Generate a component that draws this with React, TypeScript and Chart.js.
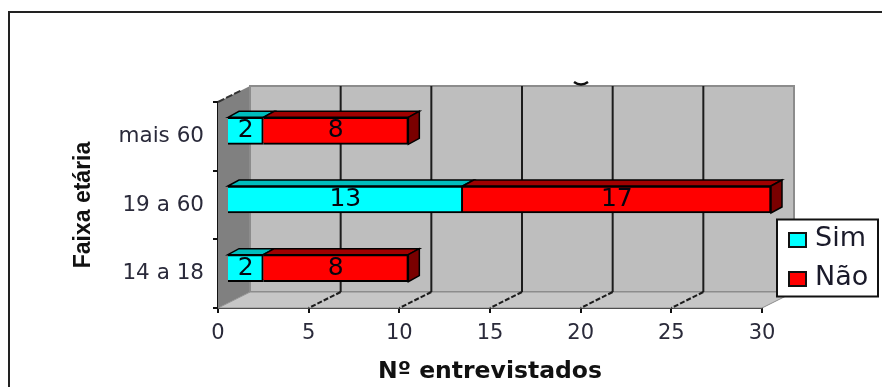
import React, { useEffect, useRef } from "react";
import { Chart, registerables } from "chart.js";

Chart.register(...registerables);

const categories = ["mais 60", "19 a 60", "14 a 18"];
const simValues = [2, 13, 2];
const naoValues = [8, 17, 8];
const seriesNames = ["Sim", "Não"];
const axisTicks = [0, 5, 10, 15, 20, 25, 30];

// Oblique offsets of the pseudo-3D box
const BOX_DX = 32;
const BOX_DY = -16;
const BAR_SHIFT_X = 9;
const BAR_SHIFT_Y = -5.5;
const BAR_DX = 11;
const BAR_DY = -6;

const TEXT_FONT = "'DejaVu Sans', sans-serif";

function poly(ctx: CanvasRenderingContext2D, pts: number[][], fill: string, stroke?: string, lw = 1) {
  ctx.beginPath();
  pts.forEach((p, i) => (i ? ctx.lineTo(p[0], p[1]) : ctx.moveTo(p[0], p[1])));
  ctx.closePath();
  ctx.fillStyle = fill;
  ctx.fill();
  if (stroke) {
    ctx.strokeStyle = stroke;
    ctx.lineWidth = lw;
    ctx.stroke();
  }
}

const boxPlugin = {
  id: "box3d",
  beforeDatasetsDraw(chart: any) {
    const { ctx, chartArea: a, scales } = chart;
    const x = scales.x;
    ctx.save();
    // left wall, back wall and floor of the box
    poly(ctx, [[a.left, a.top], [a.left + BOX_DX, a.top + BOX_DY], [a.left + BOX_DX, a.bottom + BOX_DY], [a.left, a.bottom]], "#808080");
    poly(ctx, [[a.left + BOX_DX, a.top + BOX_DY], [a.right + BOX_DX, a.top + BOX_DY], [a.right + BOX_DX, a.bottom + BOX_DY], [a.left + BOX_DX, a.bottom + BOX_DY]], "#BEBEBE", "#8c8c8c", 2);
    poly(ctx, [[a.left, a.bottom], [a.left + BOX_DX, a.bottom + BOX_DY], [a.right + BOX_DX, a.bottom + BOX_DY], [a.right, a.bottom]], "#C6C6C6", "#8c8c8c", 1);
    // dashed top edge of the left wall
    ctx.strokeStyle = "#333";
    ctx.lineWidth = 2;
    ctx.setLineDash([7, 2]);
    ctx.beginPath();
    ctx.moveTo(a.left, a.top);
    ctx.lineTo(a.left + BOX_DX - 8, a.top + BOX_DY + 4);
    ctx.stroke();
    ctx.setLineDash([]);
    // gridlines on the wall, dashed where they cross the floor
    axisTicks.slice(1, -1).forEach((v) => {
      const px = x.getPixelForValue(v);
      ctx.strokeStyle = "#1c1c1c";
      ctx.lineWidth = 2;
      ctx.beginPath();
      ctx.moveTo(px + BOX_DX, a.top + BOX_DY);
      ctx.lineTo(px + BOX_DX, a.bottom + BOX_DY);
      ctx.stroke();
      ctx.setLineDash([5, 2]);
      ctx.beginPath();
      ctx.moveTo(px + BOX_DX, a.bottom + BOX_DY);
      ctx.lineTo(px, a.bottom);
      ctx.stroke();
      ctx.setLineDash([]);
    });
    // small stroke left above the back wall
    ctx.strokeStyle = "#111";
    ctx.lineWidth = 2.5;
    ctx.beginPath();
    ctx.moveTo(574, 82);
    ctx.quadraticCurveTo(581, 87, 588, 82);
    ctx.stroke();
    ctx.restore();

    // bars sit part-way into the box; faces are drawn behind the front rectangles
    ctx.save();
    ctx.translate(BAR_SHIFT_X, BAR_SHIFT_Y);
    const tops = ["#00BDBD", "#A00000"];
    const last = chart.data.datasets.length - 1;
    chart.data.datasets.forEach((_: any, di: number) => {
      chart.getDatasetMeta(di).data.forEach((el: any) => {
        const t = el.y - el.height / 2;
        const b = el.y + el.height / 2;
        poly(ctx, [[el.base, t], [el.base + BAR_DX, t + BAR_DY], [el.x + BAR_DX, t + BAR_DY], [el.x, t]], tops[di], "#000", 1.5);
        if (di === last) {
          poly(ctx, [[el.x, t], [el.x + BAR_DX, t + BAR_DY], [el.x + BAR_DX, b + BAR_DY], [el.x, b]], "#7A0000", "#000", 1.5);
        }
      });
    });
  },
  afterDatasetsDraw(chart: any) {
    const { ctx } = chart;
    // value labels centred on each front face
    ctx.font = `25px ${TEXT_FONT}`;
    ctx.fillStyle = "#05050f";
    ctx.textAlign = "center";
    ctx.textBaseline = "middle";
    chart.data.datasets.forEach((ds: any, di: number) => {
      chart.getDatasetMeta(di).data.forEach((el: any, i: number) => {
        ctx.fillText(String(ds.data[i]), (el.x + el.base) / 2, el.y);
      });
    });
    ctx.restore();
  },
  afterDraw(chart: any) {
    const { ctx, width } = chart;
    ctx.save();
    // outer chart frame
    ctx.strokeStyle = "#222";
    ctx.lineWidth = 2;
    ctx.beginPath();
    ctx.moveTo(9, chart.height);
    ctx.lineTo(9, 12);
    ctx.lineTo(width, 12);
    ctx.stroke();
    // legend box
    const lx = 777, ly = 219.5, lw = 101, lh = 77;
    ctx.fillStyle = "#fff";
    ctx.fillRect(lx, ly, lw, lh);
    ctx.strokeStyle = "#111";
    ctx.strokeRect(lx, ly, lw, lh);
    ctx.font = `27px ${TEXT_FONT}`;
    ctx.textAlign = "left";
    ctx.textBaseline = "middle";
    chart.data.datasets.forEach((ds: any, i: number) => {
      const cy = 239 + i * 39;
      ctx.fillStyle = ds.backgroundColor;
      ctx.fillRect(789, cy - 6, 17, 14);
      ctx.strokeStyle = "#111";
      ctx.strokeRect(789, cy - 6, 17, 14);
      ctx.fillStyle = "#1a1a2a";
      ctx.fillText(ds.label, 815, cy);
    });
    ctx.restore();
  },
};

export default function App() {
  const ref = useRef<HTMLCanvasElement>(null);
  useEffect(() => {
    const chart = new Chart(ref.current!, {
      type: "bar",
      data: {
        labels: categories,
        datasets: [
          { label: seriesNames[0], data: simValues, backgroundColor: "#00FFFF", borderColor: "#000", borderWidth: 2, barThickness: 27 },
          { label: seriesNames[1], data: naoValues, backgroundColor: "#FF0000", borderColor: "#000", borderWidth: 2, barThickness: 27 },
        ],
      },
      options: {
        indexAxis: "y",
        responsive: false,
        animation: false,
        layout: { padding: { left: 0, top: 102, right: 120, bottom: 0 } },
        plugins: { legend: { display: false }, tooltip: { enabled: false }, title: { display: false } },
        scales: {
          x: {
            stacked: true,
            min: 0,
            max: 30,
            afterFit: (s: any) => { s.height = 79; },
            ticks: { stepSize: 5, color: "#2a2a3a", padding: 8, maxRotation: 0, font: { family: TEXT_FONT, size: 21 } },
            grid: { drawOnChartArea: false, color: "#111", lineWidth: 2, tickLength: 5 },
            border: { color: "#111", width: 2 },
            title: { display: true, text: "Nº entrevistados", color: "#111", padding: { top: 0, bottom: 1 }, font: { family: TEXT_FONT, size: 23.5, weight: "bold" } },
          },
          y: {
            stacked: true,
            afterFit: (s: any) => { s.width = 218; },
            ticks: { color: "#2a2a3a", padding: 9, font: { family: TEXT_FONT, size: 21.5 } },
            grid: { drawOnChartArea: false, color: "#111", lineWidth: 2, tickLength: 5 },
            border: { color: "#111", width: 2 },
            title: { display: true, text: "Faixa etária", color: "#111", padding: { top: 70, bottom: 0 }, font: { family: "'Liberation Sans', sans-serif", size: 23, weight: "bold" } },
          },
        },
      },
      plugins: [boxPlugin],
    } as any);
    return () => chart.destroy();
  }, []);
  return (
    <div style={{ position: "absolute", left: 0, top: 0, width: 882, height: 387, background: "#fff" }}>
      <canvas ref={ref} width={882} height={387} style={{ display: "block" }} />
    </div>
  );
}
